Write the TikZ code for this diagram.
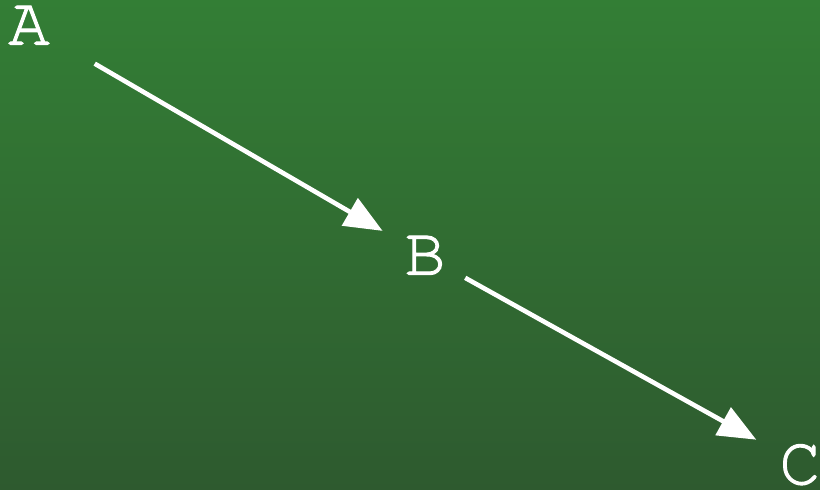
\documentclass[tikz,border=0pt]{standalone}
\usepackage[T1]{fontenc}
\usetikzlibrary{arrows.meta}
\definecolor{bgtop}{RGB}{51,126,53}
\definecolor{bgbot}{RGB}{46,90,47}
\newcommand{\heavytxt}[1]{\special{pdf:literal 2 Tr 1 w}#1\special{pdf:literal 0 Tr 0.4 w}}
\tikzset{
  lbl/.style={text=white,inner sep=0pt,font=\fontencoding{T1}\fontfamily{pcr}\fontsize{69}{69}\selectfont},
  arr/.style={draw=white,line width=4.6pt,-{Triangle[length=38pt,width=31pt]}}
}
\begin{document}
\begin{tikzpicture}[x=1pt,y=-1pt]
\shade[top color=bgtop,bottom color=bgbot] (0,0) rectangle (820,490);
\useasboundingbox (0,0) rectangle (820,490);
\node[lbl] (A) at (29,25.5) {\heavytxt{A}};
\node[lbl] (B) at (425,255.5) {\heavytxt{B}};
\node[lbl] (C) at (800,464) {\heavytxt{C}};
\draw[arr,shorten <=76pt,shorten >=49pt] (A.center) -- (B.center);
\draw[arr,shorten <=46pt,shorten >=50pt] (B.center) -- (C.center);
\end{tikzpicture}
\end{document}
